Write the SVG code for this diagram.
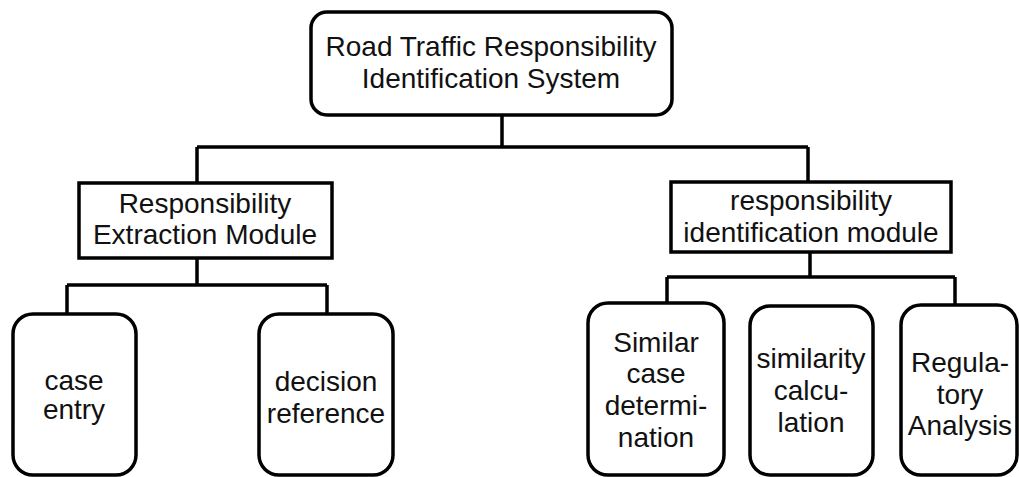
<svg xmlns="http://www.w3.org/2000/svg" width="1019" height="477" viewBox="0 0 1019 477">
  <style>
    .box { fill: #fff; stroke: #000; stroke-width: 3.5; }
    .wire { fill: none; stroke: #000; stroke-width: 3.5; }
    text { font-family: "Liberation Sans", Arial, sans-serif; font-size: 28px; fill: #111; text-anchor: middle; }
  </style>
  <rect width="1019" height="477" fill="#fff"/>

  <!-- connectors -->
  <g id="connectors">
    <path class="wire" d="M502 115 V147 M197 147 H808 M197 147 V183 M808 147 V182"/>
    <path class="wire" d="M197 258 V285 M67 285 H327 M67 285 V314 M327 285 V314"/>
    <path class="wire" d="M810 252 V277 M667 277 H955 M667 277 V303 M955 277 V305"/>
  </g>

  <!-- root -->
  <g id="root">
    <rect class="box" x="311" y="12" width="361" height="103" rx="16"/>
    <text x="491" y="56">Road Traffic Responsibility</text>
    <text x="491" y="88">Identification System</text>
  </g>

  <!-- modules -->
  <g id="extraction-module">
    <rect class="box" x="79" y="183" width="253" height="75"/>
    <text x="205" y="213">Responsibility</text>
    <text x="205" y="244">Extraction Module</text>
  </g>
  <g id="identification-module">
    <rect class="box" x="671" y="182" width="280" height="70"/>
    <text x="811" y="210">responsibility</text>
    <text x="811" y="242">identification module</text>
  </g>

  <!-- leaves of the extraction module -->
  <g id="case-entry">
    <rect class="box" x="13" y="314" width="123" height="161" rx="20"/>
    <text x="74" y="390">case</text>
    <text x="74" y="419">entry</text>
  </g>
  <g id="decision-reference">
    <rect class="box" x="259" y="314" width="134" height="161" rx="20"/>
    <text x="326" y="391">decision</text>
    <text x="326" y="423">reference</text>
  </g>

  <!-- leaves of the identification module -->
  <g id="similar-case">
    <rect class="box" x="588" y="303" width="136" height="172" rx="20"/>
    <text x="656" y="352">Similar</text>
    <text x="656" y="383">case</text>
    <text x="656" y="415">determi-</text>
    <text x="656" y="447">nation</text>
  </g>
  <g id="similarity-calculation">
    <rect class="box" x="750" y="306" width="123" height="169" rx="20"/>
    <text x="811" y="368">similarity</text>
    <text x="811" y="400">calcu-</text>
    <text x="811" y="432">lation</text>
  </g>
  <g id="regulatory-analysis">
    <rect class="box" x="901" y="305" width="116" height="170" rx="20"/>
    <text x="960" y="372">Regula-</text>
    <text x="960" y="404">tory</text>
    <text x="960" y="435">Analysis</text>
  </g>
</svg>
